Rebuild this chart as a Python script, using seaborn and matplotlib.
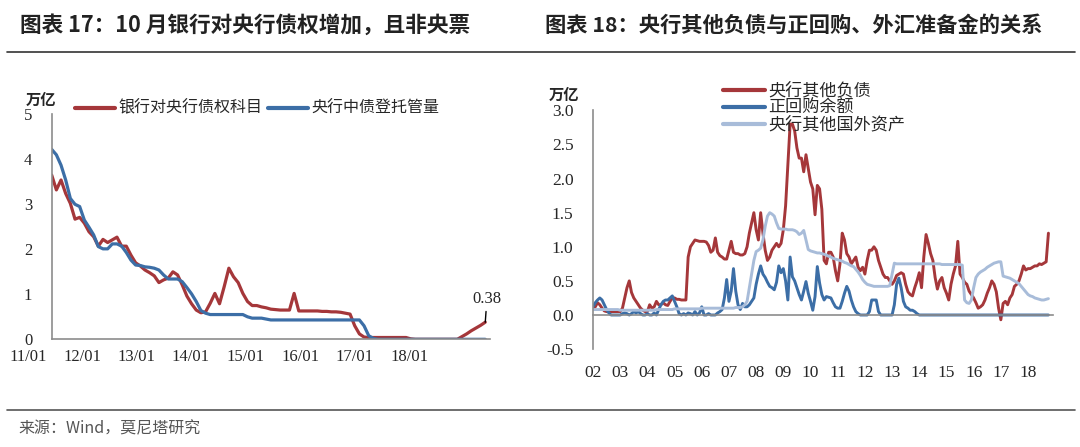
import pandas as pd
import seaborn as sns
import matplotlib.pyplot as plt
from matplotlib.lines import Line2D

# 图表17: monthly, 2011/01 - 2018/10, 万亿
bank_claims = [
    3.65, 3.32, 3.54, 3.24, 3.02, 2.67, 2.71, 2.58, 2.39, 2.28, 2.07, 2.22,
    2.15, 2.21, 2.27, 2.07, 2.07, 1.87, 1.70, 1.63, 1.54, 1.48, 1.41, 1.26,
    1.32, 1.36, 1.50, 1.43, 1.21, 0.96, 0.79, 0.65, 0.59, 0.61, 0.80, 1.02,
    0.79, 1.17, 1.58, 1.39, 1.26, 1.02, 0.84, 0.75, 0.75, 0.72, 0.70, 0.67,
    0.66, 0.65, 0.65, 0.65, 1.02, 0.63, 0.63, 0.63, 0.63, 0.63, 0.62, 0.62,
    0.61, 0.61, 0.60, 0.58, 0.56, 0.30, 0.12, 0.05, 0.04, 0.04, 0.04, 0.04,
    0.04, 0.04, 0.04, 0.04, 0.04, 0.01, 0.00, 0.00, 0.00, 0.00, 0.00, 0.00,
    0.00, 0.00, 0.00, 0.00, 0.06, 0.12, 0.19, 0.25, 0.31, 0.38]
cb_custody = [
    4.22, 4.10, 3.87, 3.54, 3.13, 3.00, 2.95, 2.65, 2.49, 2.32, 2.06, 2.01,
    2.01, 2.12, 2.12, 2.07, 1.93, 1.76, 1.65, 1.64, 1.61, 1.60, 1.58, 1.54,
    1.43, 1.34, 1.34, 1.34, 1.28, 1.15, 1.01, 0.84, 0.64, 0.58, 0.55, 0.55,
    0.55, 0.55, 0.55, 0.55, 0.55, 0.55, 0.50, 0.47, 0.47, 0.47, 0.45, 0.43,
    0.43, 0.43, 0.43, 0.43, 0.43, 0.43, 0.43, 0.43, 0.43, 0.43, 0.43, 0.43,
    0.43, 0.43, 0.43, 0.43, 0.43, 0.43, 0.43, 0.30, 0.08, 0.02, 0.00, 0.00,
    0.00, 0.00, 0.00, 0.00, 0.00, 0.00, 0.00, 0.00, 0.00, 0.00, 0.00, 0.00,
    0.00, 0.00, 0.00, 0.00, 0.00, 0.00, 0.00, 0.00, 0.00, 0.00]
left_labels = ["11/01", "12/01", "13/01", "14/01", "15/01", "16/01", "17/01", "18/01"]
# where excel put those labels (years after 2011/01)
left_label_pos = [-0.42, 0.55, 1.51, 2.48, 3.46, 4.44, 5.42, 6.39]

# 图表18: monthly, 2002/01 - 2018/10, 万亿
other_liab = [
    0.10, 0.12, 0.18, 0.15, 0.10, 0.06, 0.05, 0.05, 0.05, 0.05, 0.05, 0.05,
    0.05, 0.10, 0.25, 0.40, 0.50, 0.33, 0.25, 0.20, 0.15, 0.10, 0.07, 0.05,
    0.05, 0.15, 0.10, 0.12, 0.20, 0.15, 0.15, 0.18, 0.15, 0.14, 0.20, 0.25,
    0.25, 0.23, 0.23, 0.22, 0.22, 0.22, 0.85, 1.00, 1.05, 1.10, 1.09, 1.08,
    1.08, 1.08, 1.07, 1.02, 0.92, 0.95, 1.13, 0.92, 0.87, 0.85, 0.82, 0.82,
    0.95, 1.08, 0.92, 0.90, 0.90, 0.88, 0.88, 0.90, 1.00, 1.20, 1.35, 1.50,
    1.25, 1.10, 1.50, 1.20, 0.95, 0.80, 0.85, 0.95, 1.00, 1.05, 1.00, 1.05,
    1.25, 1.60, 2.20, 2.80, 2.80, 2.70, 2.45, 2.30, 2.30, 2.10, 2.35, 2.15,
    1.95, 1.85, 1.47, 1.90, 1.85, 1.55, 0.80, 0.75, 0.92, 0.92, 0.85, 0.65,
    0.50, 0.75, 1.20, 1.10, 0.90, 0.85, 0.75, 0.80, 0.85, 0.70, 0.65, 0.70,
    0.60, 0.80, 0.95, 0.95, 1.00, 0.95, 0.80, 0.70, 0.60, 0.55, 0.55, 0.50,
    0.45, 0.50, 0.58, 0.60, 0.62, 0.60, 0.45, 0.34, 0.30, 0.28, 0.40, 0.50,
    0.62, 0.40, 0.85, 1.18, 1.05, 0.90, 0.80, 0.55, 0.38, 0.50, 0.55, 0.40,
    0.32, 0.22, 0.45, 0.60, 0.72, 1.08, 0.60, 0.55, 0.48, 0.45, 0.35, 0.30,
    0.25, 0.18, 0.10, 0.12, 0.15, 0.22, 0.32, 0.40, 0.50, 0.45, 0.34, 0.10,
    -0.07, 0.17, 0.20, 0.15, 0.25, 0.30, 0.42, 0.45, 0.50, 0.60, 0.72, 0.66,
    0.68, 0.68, 0.70, 0.72, 0.72, 0.75, 0.74, 0.76, 0.78, 1.20]
repo = [
    0.12, 0.18, 0.22, 0.25, 0.22, 0.15, 0.08, 0.03, 0.00, 0.00, 0.00, 0.00,
    0.00, 0.02, 0.03, 0.02, 0.00, 0.02, 0.05, 0.03, 0.05, 0.02, 0.00, 0.00,
    0.02, 0.00, 0.00, 0.03, 0.00, 0.08, 0.15, 0.20, 0.22, 0.22, 0.25, 0.28,
    0.20, 0.12, 0.02, 0.00, 0.02, 0.00, 0.03, 0.02, 0.00, 0.05, 0.00, 0.03,
    0.12, 0.00, 0.00, 0.02, 0.00, 0.00, 0.00, 0.03, 0.05, 0.08, 0.25, 0.52,
    0.20, 0.35, 0.68, 0.35, 0.15, 0.08, 0.17, 0.12, 0.12, 0.15, 0.20, 0.25,
    0.45, 0.60, 0.72, 0.60, 0.55, 0.48, 0.42, 0.40, 0.37, 0.48, 0.72, 0.62,
    0.68, 0.50, 0.22, 0.85, 0.56, 0.50, 0.40, 0.30, 0.22, 0.35, 0.49, 0.32,
    0.20, 0.07, 0.27, 0.71, 0.47, 0.30, 0.22, 0.27, 0.26, 0.25, 0.18, 0.12,
    0.10, 0.10, 0.20, 0.32, 0.42, 0.35, 0.22, 0.12, 0.05, 0.02, 0.00, 0.00,
    0.00, 0.00, 0.05, 0.22, 0.22, 0.22, 0.05, 0.00, 0.00, 0.00, 0.00, 0.00,
    0.00, 0.15, 0.45, 0.54, 0.40, 0.20, 0.12, 0.10, 0.07, 0.07, 0.05, 0.02,
    0.00, 0.00, 0.00, 0.00, 0.00, 0.00, 0.00, 0.00, 0.00, 0.00, 0.00, 0.00,
    0.00, 0.00, 0.00, 0.00, 0.00, 0.00, 0.00, 0.00, 0.00, 0.00, 0.00, 0.00,
    0.00, 0.00, 0.00, 0.00, 0.00, 0.00, 0.00, 0.00, 0.00, 0.00, 0.00, 0.00,
    0.00, 0.00, 0.00, 0.00, 0.00, 0.00, 0.00, 0.00, 0.00, 0.00, 0.00, 0.00,
    0.00, 0.00, 0.00, 0.00, 0.00, 0.00, 0.00, 0.00, 0.00, 0.00]
other_foreign = [
    0.08, 0.08, 0.08, 0.08, 0.08, 0.08, 0.08, 0.08, 0.08, 0.08, 0.08, 0.08,
    0.07, 0.07, 0.07, 0.07, 0.07, 0.07, 0.07, 0.07, 0.07, 0.07, 0.07, 0.07,
    0.07, 0.07, 0.07, 0.07, 0.08, 0.08, 0.08, 0.08, 0.08, 0.08, 0.08, 0.08,
    0.09, 0.09, 0.09, 0.09, 0.09, 0.09, 0.09, 0.09, 0.09, 0.09, 0.09, 0.09,
    0.10, 0.10, 0.10, 0.10, 0.10, 0.10, 0.10, 0.10, 0.10, 0.10, 0.10, 0.10,
    0.10, 0.10, 0.10, 0.11, 0.11, 0.11, 0.12, 0.15, 0.20, 0.40, 0.60, 0.80,
    0.93, 0.95, 0.98, 1.10, 1.30, 1.45, 1.50, 1.48, 1.45, 1.35, 1.27, 1.26,
    1.26, 1.26, 1.25, 1.25, 1.25, 1.24, 1.22, 1.18, 1.20, 1.24, 1.10, 0.96,
    0.94, 0.93, 0.92, 0.91, 0.91, 0.90, 0.89, 0.88, 0.86, 0.85, 0.83, 0.82,
    0.81, 0.80, 0.79, 0.77, 0.76, 0.74, 0.72, 0.71, 0.67, 0.63, 0.58, 0.52,
    0.48, 0.45, 0.44, 0.43, 0.42, 0.42, 0.42, 0.42, 0.42, 0.42, 0.42, 0.43,
    0.60, 0.76, 0.75, 0.75, 0.75, 0.75, 0.75, 0.75, 0.75, 0.75, 0.75, 0.75,
    0.75, 0.75, 0.75, 0.75, 0.75, 0.75, 0.75, 0.75, 0.75, 0.75, 0.74, 0.74,
    0.74, 0.74, 0.74, 0.74, 0.74, 0.74, 0.74, 0.73, 0.22, 0.18, 0.17, 0.22,
    0.40, 0.55, 0.60, 0.63, 0.65, 0.67, 0.70, 0.72, 0.74, 0.76, 0.77, 0.78,
    0.78, 0.57, 0.56, 0.55, 0.54, 0.52, 0.50, 0.48, 0.46, 0.42, 0.38, 0.34,
    0.30, 0.28, 0.27, 0.25, 0.24, 0.23, 0.22, 0.22, 0.23, 0.24]
right_labels = ["02", "03", "04", "05", "06", "07", "08", "09", "10",
                "11", "12", "13", "14", "15", "16", "17", "18"]

RED = "#A5373A"
BLUE = "#3C6EA6"
LIGHT = "#A8BCD9"
GREY = "#8C8C8C"
SERIF = "Liberation Serif"

sns.set_style("white")
plt.rcParams["font.family"] = ["Noto Sans CJK SC", "DejaVu Sans"]

# x as years since first January of each chart
d1 = pd.date_range("2011-01-01", periods=len(bank_claims), freq="MS")
df1 = pd.DataFrame({"t": (d1.year - 2011) + (d1.month - 1) / 12,
                    "bank": bank_claims, "cb": cb_custody})
d2 = pd.date_range("2002-01-01", periods=len(other_liab), freq="MS")
df2 = pd.DataFrame({"t": (d2.year - 2002) + (d2.month - 1) / 12,
                    "liab": other_liab, "repo": repo, "fx": other_foreign})

W, H = 1080, 447
fig = plt.figure(figsize=(W / 100, H / 100), dpi=100)


def box(x0, y0, x1, y1):
    return [x0 / W, 1 - y1 / H, (x1 - x0) / W, (y1 - y0) / H]


def fx(px):
    return px / W


def fy(py):
    return 1 - py / H


# ---- left chart
ax1 = fig.add_axes(box(51.7, 114.3, 490.3, 339.3))
sns.lineplot(data=df1, x="t", y="bank", ax=ax1, color=RED, lw=2.3)
sns.lineplot(data=df1, x="t", y="cb", ax=ax1, color=BLUE, lw=2.3)
ax1.set_xlim(0, 7.84)
ax1.set_ylim(0, 5)
ax1.set_xticks(range(8))
ax1.set_xticklabels([])
for pos, lab in zip(left_label_pos, left_labels):
    ax1.text(pos, -0.4, lab, transform=ax1.transData, ha="center", va="center",
             fontsize=12, fontfamily=SERIF, clip_on=False)
ax1.set_yticks(range(6))
ax1.set_yticklabels([str(v) for v in range(6)], fontfamily=SERIF, fontsize=12)
ax1.tick_params(axis="x", direction="in", length=4, color=GREY)
ax1.tick_params(axis="y", direction="in", length=3, color=GREY, pad=14)
ax1.annotate("0.38", xy=(df1["t"].iloc[-1], bank_claims[-1]), xytext=(7.78, 0.9),
             ha="center", va="center", fontsize=12, fontfamily=SERIF,
             annotation_clip=False,
             arrowprops=dict(arrowstyle="-", color="black", lw=1, shrinkA=1, shrinkB=0))

# ---- right chart
ax2 = fig.add_axes(box(593, 110.4, 1052.5, 349.1))
sns.lineplot(data=df2, x="t", y="liab", ax=ax2, color=RED, lw=2.1)
sns.lineplot(data=df2, x="t", y="repo", ax=ax2, color=BLUE, lw=2.1)
sns.lineplot(data=df2, x="t", y="fx", ax=ax2, color=LIGHT, lw=2.1)
ax2.set_xlim(0, 16.9)
ax2.set_ylim(-0.5, 3.0)
ax2.spines["bottom"].set_position(("data", 0))
ax2.set_xticks(range(17))
ax2.set_xticklabels(right_labels, fontfamily=SERIF, fontsize=12.5)
yt = [-0.5, 0.0, 0.5, 1.0, 1.5, 2.0, 2.5, 3.0]
ax2.set_yticks(yt)
ax2.set_yticklabels([f"{v:.1f}" for v in yt], fontfamily=SERIF, fontsize=12.5)
ax2.tick_params(axis="x", direction="in", length=3, color=GREY, pad=36)
ax2.tick_params(axis="y", direction="in", length=3, color=GREY, pad=14)

for ax in (ax1, ax2):
    ax.set_xlabel("")
    ax.set_ylabel("")
    ax.spines["top"].set_visible(False)
    ax.spines["right"].set_visible(False)
    for s in ("left", "bottom"):
        ax.spines[s].set_color(GREY)
        ax.spines[s].set_linewidth(1.2)

# legends, laid out like the excel ones (tight rows)
leg1 = [(75, 115, 118, RED, "银行对央行债权科目"),
        (268, 308, 311, BLUE, "央行中债登托管量")]
for x0, x1, xt, col, lab in leg1:
    fig.add_artist(Line2D([fx(x0), fx(x1)], [fy(108)] * 2, color=col, lw=3))
    fig.text(fx(xt), fy(108), lab, fontsize=11.5, va="center")

leg2 = [(90, RED, "央行其他负债"), (107, BLUE, "正回购余额"),
        (124, LIGHT, "央行其他国外资产")]
for yrow, col, lab in leg2:
    fig.add_artist(Line2D([fx(723), fx(765)], [fy(yrow)] * 2, color=col, lw=3))
    fig.text(fx(768), fy(yrow), lab, fontsize=12.3, va="center")

# unit labels
fig.text(fx(26), fy(100), "万亿", fontsize=11, fontweight="bold", va="center")
fig.text(fx(549), fy(95), "万亿", fontsize=11, fontweight="bold", va="center")

# titles, rules and source
fig.text(fx(20), fy(25), "图表 17：10 月银行对央行债权增加，且非央票",
         fontsize=15.6, fontweight="bold", va="center", color="#222222")
fig.text(fx(545), fy(25), "图表 18：央行其他负债与正回购、外汇准备金的关系",
         fontsize=15.3, fontweight="bold", va="center", color="#222222")
fig.add_artist(Line2D([fx(7), fx(1075)], [fy(52)] * 2, color="#333333", lw=1.2))
fig.add_artist(Line2D([fx(7), fx(1075)], [fy(410)] * 2, color="#555555", lw=1.2))
fig.text(fx(18), fy(429), "来源：Wind，莫尼塔研究", fontsize=11.5, va="center",
         color="#555555")

fig.savefig("out.png", dpi=100)
